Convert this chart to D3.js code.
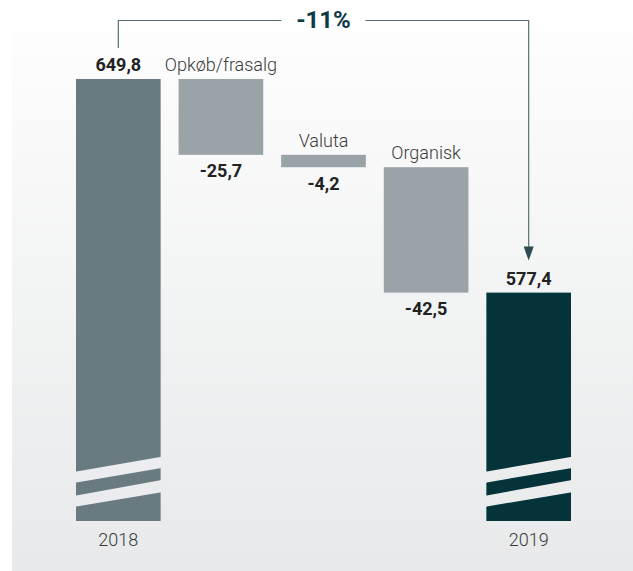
<!DOCTYPE html>
<html>
<head>
<meta charset="utf-8">
<script src="https://cdn.jsdelivr.net/npm/d3@7"></script>
<style>
  html, body { margin: 0; padding: 0; background: #fff; }
  svg { display: block; font-family: Roboto, "Noto Sans", sans-serif; }
</style>
</head>
<body>
<div id="chart"></div>
<script>
// ---- data ------------------------------------------------------------------
const categories = ['2018', 'Opkøb/frasalg', 'Valuta', 'Organisk', '2019'];
const values = [649.8, -25.7, -4.2, -42.5, 577.4];
const kinds = ['total', 'delta', 'delta', 'delta', 'total'];
const changeLabel = '-11%';
const axisBase = 500; // broken axis: bars start here

// ---- layout ----------------------------------------------------------------
const W = 633, H = 571;
const fmt = d3.formatLocale({ decimal: ',', thousands: '.', grouping: [3], currency: ['', ' kr'], minus: '-' }).format('.1f');

const svg = d3.select('#chart').append('svg')
  .attr('width', W).attr('height', H);

const defs = svg.append('defs');
const grad = defs.append('linearGradient')
  .attr('id', 'bg').attr('gradientUnits', 'userSpaceOnUse')
  .attr('x1', 0).attr('y1', 33).attr('x2', 0).attr('y2', H);
grad.append('stop').attr('offset', 0).attr('stop-color', '#fdfdfd');
grad.append('stop').attr('offset', 1).attr('stop-color', '#e7e9ea');

svg.append('rect')
  .attr('x', 12).attr('y', 33).attr('width', W - 12).attr('height', H - 33)
  .attr('fill', 'url(#bg)');

const x = d3.scaleBand().domain(categories).range([76, 571])
  .paddingInner(0.175).paddingOuter(0);
const y = d3.scaleLinear().domain([axisBase, 650]).range([521, 78.4]);

// running totals for the waterfall
let running = 0;
const bars = categories.map((c, i) => {
  let top, bottom;
  if (kinds[i] === 'total') {
    running = values[i];
    top = y(values[i]); bottom = y(axisBase);
  } else {
    const start = running;
    running += values[i];
    top = y(start); bottom = y(running);
  }
  return { c, i, v: values[i], kind: kinds[i], top, bottom };
});

const fillFor = d => d.kind === 'delta' ? '#9aa3a8' : (d.i === 0 ? '#697b80' : '#04343a');

svg.append('g').selectAll('rect')
  .data(bars).join('rect')
  .attr('x', d => x(d.c))
  .attr('y', d => d.top)
  .attr('width', x.bandwidth())
  .attr('height', d => d.bottom - d.top)
  .attr('fill', fillFor);

// axis-break bands across the total bars
const bw = x.bandwidth();
const breaks = [[-49.3, -38.3, -64.3, -53], [-25.3, -14.3, -41, -28.7]];
bars.filter(d => d.kind === 'total').forEach(d => {
  const x0 = x(d.c) - 1, x1 = x(d.c) + bw + 1;
  breaks.forEach(b => {
    svg.append('polygon')
      .attr('points', [[x0, d.bottom + b[0]], [x1, d.bottom + b[2]], [x1, d.bottom + b[3]], [x0, d.bottom + b[1]]].join(' '))
      .attr('fill', 'url(#bg)');
  });
});

// value labels
svg.append('g').selectAll('text')
  .data(bars).join('text')
  .attr('x', d => x(d.c) + bw / 2)
  .attr('y', d => d.kind === 'total' ? d.top - 7.5 : d.bottom + 22.5)
  .attr('text-anchor', 'middle')
  .attr('font-size', '18px').attr('font-weight', 700).attr('fill', '#222')
  .text(d => fmt(d.v));

// category labels: deltas above their bar, totals below
svg.append('g').selectAll('text')
  .data(bars).join('text')
  .attr('x', d => x(d.c) + bw / 2)
  .attr('y', d => d.kind === 'total' ? d.bottom + 25 : d.top - 8)
  .attr('text-anchor', 'middle')
  .attr('font-size', '18px').attr('font-weight', 300).attr('fill', '#3a3a3a')
  .text(d => d.c);

// bracket with change
const first = bars[0], last = bars[bars.length - 1];
const xa = x(first.c) + bw / 2, xb = x(last.c) + bw / 2;
const midX = (xa + xb) / 2, yLine = 20.5;
const lineCol = '#5a6f75';

svg.append('path')
  .attr('d', `M${xa},48 V${yLine} H${midX - 42}`)
  .attr('fill', 'none').attr('stroke', lineCol).attr('stroke-width', 1.2);
svg.append('path')
  .attr('d', `M${midX + 42},${yLine} H${xb} V${last.top - 45}`)
  .attr('fill', 'none').attr('stroke', lineCol).attr('stroke-width', 1.2);
svg.append('path')
  .attr('d', `M${xb - 5},${last.top - 46} L${xb + 5},${last.top - 46} L${xb},${last.top - 32} Z`)
  .attr('fill', '#2f4b52');

svg.append('text')
  .attr('x', midX).attr('y', 28)
  .attr('text-anchor', 'middle')
  .attr('font-size', '24px').attr('font-weight', 700).attr('fill', '#0d3b45')
  .text(changeLabel);
</script>
</body>
</html>
